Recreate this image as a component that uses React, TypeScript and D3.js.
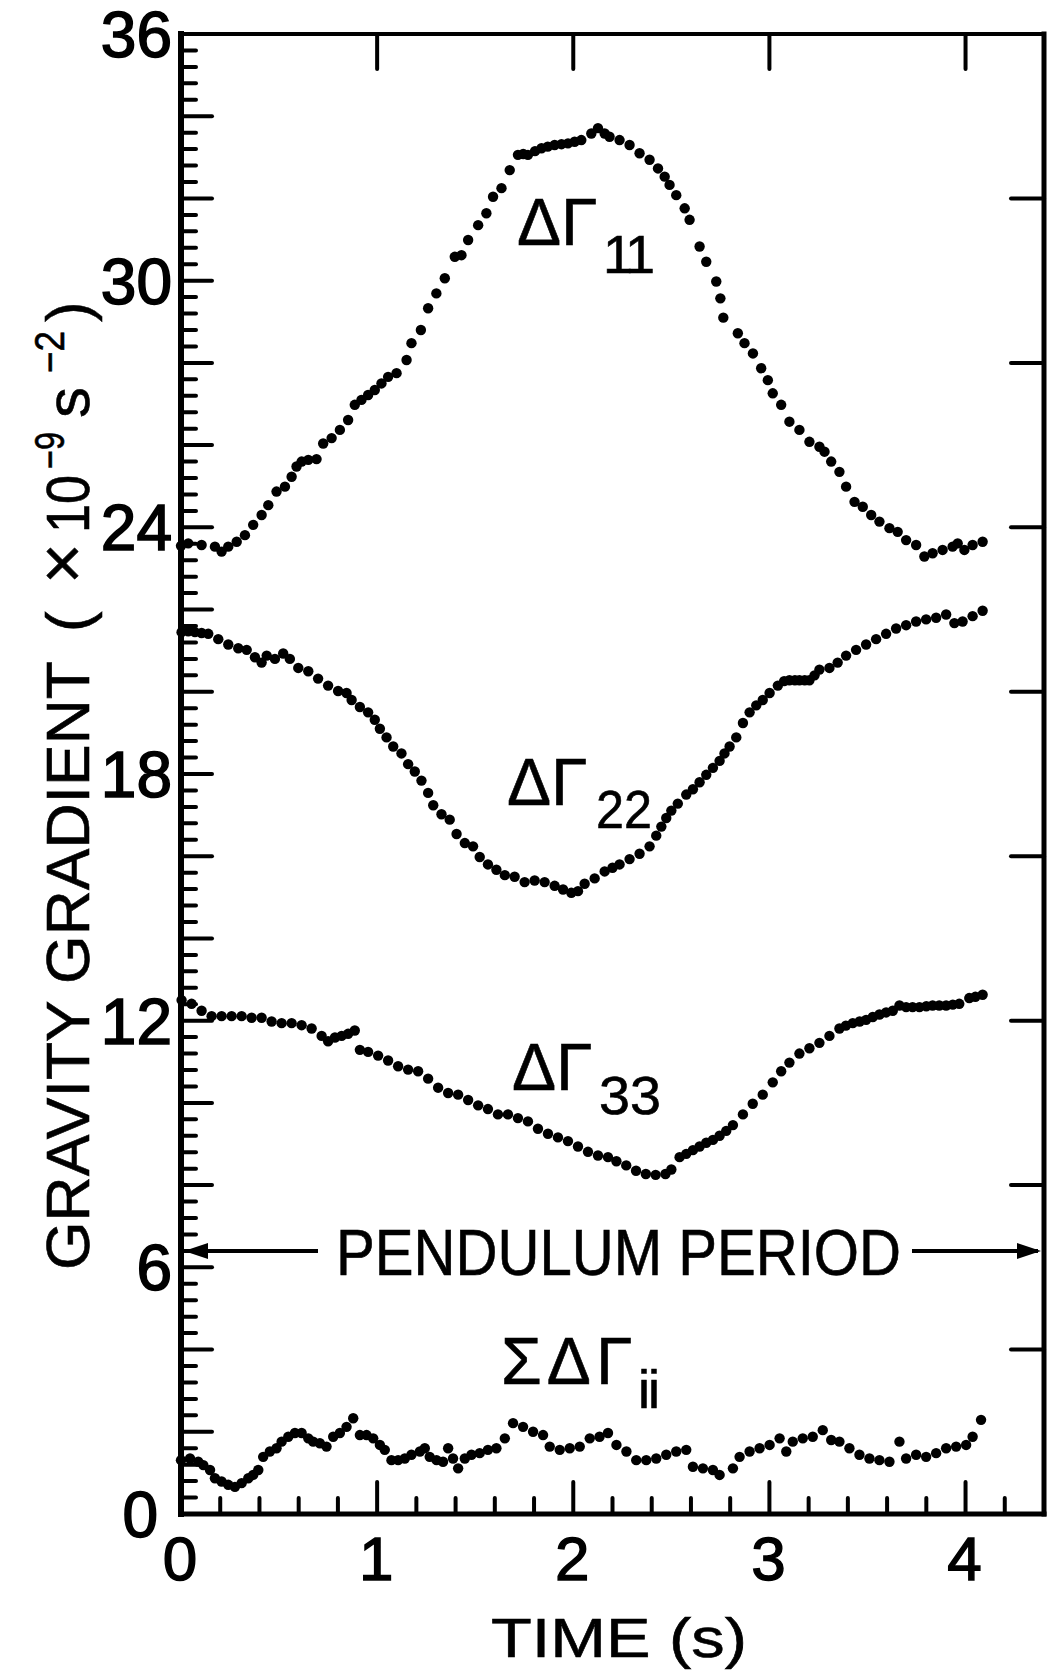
import React from 'react';
import * as d3 from 'd3';

const W = 1054;
const H = 1672;

// ---- data (time in s, gradient in 1e-9 s^-2) ----
const gamma11: [number, number][] = [
  [0.0, 23.55], [0.037, 23.61], [0.105, 23.57], [0.173, 23.53], [0.207, 23.41], [0.241, 23.53], [0.284, 23.65],
  [0.326, 23.81], [0.368, 24.06], [0.411, 24.3], [0.445, 24.54], [0.487, 24.87], [0.53, 24.99], [0.564, 25.23],
  [0.589, 25.48], [0.615, 25.6], [0.649, 25.64], [0.691, 25.66], [0.725, 26.04], [0.768, 26.17], [0.81, 26.37],
  [0.852, 26.61], [0.886, 26.98], [0.92, 27.1], [0.954, 27.22], [0.988, 27.34], [1.022, 27.5], [1.056, 27.66],
  [1.099, 27.75], [1.15, 28.07], [1.175, 28.48], [1.223, 28.8], [1.26, 29.33], [1.302, 29.69], [1.345, 30.06],
  [1.396, 30.58], [1.43, 30.62], [1.464, 30.99], [1.515, 31.35], [1.557, 31.64], [1.591, 32.04], [1.634, 32.25],
  [1.676, 32.69], [1.718, 33.06], [1.745, 33.08], [1.769, 33.06], [1.805, 33.15], [1.838, 33.22], [1.87, 33.26],
  [1.905, 33.3], [1.94, 33.32], [1.973, 33.34], [2.007, 33.38], [2.041, 33.42], [2.092, 33.58], [2.126, 33.71],
  [2.16, 33.58], [2.185, 33.5], [2.236, 33.42], [2.287, 33.3], [2.338, 33.1], [2.389, 32.94], [2.432, 32.73],
  [2.466, 32.53], [2.491, 32.33], [2.525, 32.08], [2.568, 31.76], [2.593, 31.48], [2.644, 30.83], [2.678, 30.46],
  [2.729, 29.98], [2.75, 29.57], [2.765, 29.1], [2.839, 28.72], [2.873, 28.48], [2.916, 28.23], [2.958, 27.87],
  [2.992, 27.58], [3.017, 27.26], [3.06, 26.98], [3.102, 26.57], [3.153, 26.37], [3.204, 26.08], [3.255, 25.96],
  [3.281, 25.84], [3.315, 25.6], [3.357, 25.35], [3.391, 24.99], [3.434, 24.62], [3.476, 24.5], [3.519, 24.3],
  [3.561, 24.14], [3.612, 23.98], [3.654, 23.89], [3.697, 23.69], [3.748, 23.57], [3.79, 23.29], [3.832, 23.37],
  [3.883, 23.45], [3.934, 23.53], [3.96, 23.61], [3.994, 23.45], [4.036, 23.57], [4.087, 23.65],
];

const gamma22: [number, number][] = [
  [0.003, 21.45], [0.037, 21.47], [0.071, 21.45], [0.105, 21.43], [0.139, 21.41], [0.19, 21.28], [0.241, 21.15],
  [0.292, 21.06], [0.335, 21.02], [0.377, 20.84], [0.411, 20.71], [0.437, 20.88], [0.479, 20.8], [0.521, 20.93],
  [0.555, 20.8], [0.598, 20.58], [0.649, 20.5], [0.699, 20.32], [0.75, 20.15], [0.801, 20.02], [0.844, 19.97],
  [0.87, 19.8], [0.912, 19.63], [0.954, 19.5], [0.988, 19.32], [1.014, 19.1], [1.048, 18.89], [1.082, 18.67],
  [1.124, 18.5], [1.158, 18.24], [1.192, 18.06], [1.226, 17.84], [1.26, 17.54], [1.286, 17.24], [1.328, 17.02],
  [1.37, 16.89], [1.405, 16.54], [1.447, 16.32], [1.489, 16.24], [1.523, 15.98], [1.565, 15.8], [1.608, 15.67],
  [1.651, 15.54], [1.701, 15.5], [1.752, 15.37], [1.803, 15.41], [1.854, 15.37], [1.905, 15.28], [1.948, 15.19],
  [1.99, 15.11], [2.024, 15.15], [2.058, 15.33], [2.109, 15.46], [2.16, 15.63], [2.2, 15.72], [2.236, 15.8],
  [2.287, 15.93], [2.338, 16.06], [2.389, 16.24], [2.423, 16.5], [2.449, 16.72], [2.474, 16.93], [2.5, 17.11],
  [2.533, 17.28], [2.576, 17.5], [2.61, 17.63], [2.644, 17.8], [2.678, 17.98], [2.712, 18.15], [2.746, 18.32],
  [2.771, 18.5], [2.797, 18.67], [2.831, 18.89], [2.865, 19.24], [2.899, 19.5], [2.933, 19.67], [2.966, 19.8],
  [3.001, 19.97], [3.043, 20.15], [3.075, 20.26], [3.102, 20.28], [3.13, 20.28], [3.153, 20.28], [3.18, 20.28],
  [3.204, 20.28], [3.23, 20.4], [3.255, 20.54], [3.306, 20.58], [3.348, 20.71], [3.391, 20.88], [3.442, 21.02],
  [3.493, 21.15], [3.544, 21.28], [3.595, 21.41], [3.646, 21.54], [3.697, 21.62], [3.748, 21.71], [3.799, 21.76],
  [3.85, 21.8], [3.901, 21.88], [3.943, 21.67], [3.985, 21.71], [4.036, 21.84], [4.087, 21.97],
];

const gamma33: [number, number][] = [
  [0.003, 12.5], [0.054, 12.41], [0.105, 12.24], [0.156, 12.11], [0.207, 12.11], [0.258, 12.11], [0.309, 12.11],
  [0.36, 12.07], [0.411, 12.07], [0.462, 11.98], [0.513, 11.94], [0.564, 11.94], [0.615, 11.89], [0.666, 11.81],
  [0.717, 11.63], [0.75, 11.5], [0.785, 11.59], [0.819, 11.63], [0.852, 11.68], [0.886, 11.76], [0.912, 11.29],
  [0.954, 11.24], [1.005, 11.15], [1.056, 11.03], [1.107, 10.89], [1.158, 10.81], [1.209, 10.77], [1.26, 10.59],
  [1.311, 10.37], [1.362, 10.24], [1.413, 10.2], [1.464, 10.07], [1.515, 9.94], [1.565, 9.85], [1.616, 9.72],
  [1.667, 9.72], [1.718, 9.63], [1.769, 9.55], [1.82, 9.37], [1.871, 9.25], [1.922, 9.16], [1.973, 9.07],
  [2.024, 8.94], [2.075, 8.81], [2.126, 8.72], [2.177, 8.68], [2.22, 8.58], [2.27, 8.48], [2.32, 8.35],
  [2.37, 8.27], [2.42, 8.25], [2.47, 8.27], [2.5, 8.38], [2.542, 8.68], [2.576, 8.76], [2.61, 8.85], [2.644, 8.94],
  [2.678, 9.03], [2.712, 9.1], [2.746, 9.2], [2.78, 9.32], [2.814, 9.46], [2.865, 9.72], [2.915, 9.98],
  [2.966, 10.2], [3.017, 10.5], [3.06, 10.77], [3.102, 10.98], [3.153, 11.2], [3.204, 11.33], [3.255, 11.46],
  [3.306, 11.63], [3.357, 11.81], [3.39, 11.88], [3.425, 11.94], [3.46, 11.98], [3.493, 12.02], [3.527, 12.09],
  [3.561, 12.15], [3.595, 12.2], [3.629, 12.24], [3.663, 12.37], [3.697, 12.33], [3.73, 12.33], [3.765, 12.33],
  [3.8, 12.35], [3.832, 12.37], [3.866, 12.37], [3.901, 12.37], [3.935, 12.39], [3.968, 12.41], [4.019, 12.55],
  [4.05, 12.58], [4.087, 12.63],
];

const gammaSum: [number, number][] = [
  [0.0, 1.31], [0.046, 1.35], [0.088, 1.27], [0.114, 1.19], [0.148, 1.07], [0.173, 0.87], [0.207, 0.79],
  [0.241, 0.71], [0.275, 0.66], [0.309, 0.75], [0.343, 0.87], [0.368, 0.95], [0.394, 1.07], [0.419, 1.39],
  [0.453, 1.52], [0.487, 1.6], [0.513, 1.76], [0.547, 1.88], [0.581, 1.97], [0.615, 1.97], [0.649, 1.84],
  [0.674, 1.76], [0.708, 1.72], [0.742, 1.64], [0.776, 1.88], [0.81, 1.97], [0.844, 2.12], [0.878, 2.33],
  [0.912, 1.92], [0.946, 1.92], [0.98, 1.84], [1.014, 1.68], [1.039, 1.56], [1.073, 1.31], [1.107, 1.31],
  [1.141, 1.35], [1.175, 1.44], [1.218, 1.52], [1.243, 1.6], [1.268, 1.39], [1.303, 1.31], [1.336, 1.27],
  [1.362, 1.6], [1.387, 1.35], [1.413, 1.11], [1.447, 1.35], [1.481, 1.44], [1.523, 1.48], [1.565, 1.56],
  [1.608, 1.6], [1.651, 1.84], [1.693, 2.21], [1.744, 2.12], [1.795, 2.0], [1.846, 1.92], [1.88, 1.64],
  [1.931, 1.56], [1.982, 1.6], [2.033, 1.64], [2.084, 1.84], [2.134, 1.88], [2.177, 1.97], [2.22, 1.68],
  [2.271, 1.52], [2.321, 1.31], [2.372, 1.31], [2.423, 1.35], [2.474, 1.44], [2.525, 1.52], [2.576, 1.56],
  [2.61, 1.15], [2.661, 1.11], [2.712, 1.07], [2.746, 0.95], [2.814, 1.11], [2.848, 1.39], [2.899, 1.52],
  [2.95, 1.6], [3.001, 1.68], [3.052, 1.84], [3.086, 1.52], [3.119, 1.76], [3.17, 1.84], [3.221, 1.88],
  [3.272, 2.04], [3.315, 1.8], [3.357, 1.76], [3.408, 1.6], [3.459, 1.44], [3.51, 1.35], [3.561, 1.31],
  [3.612, 1.27], [3.663, 1.76], [3.697, 1.35], [3.748, 1.44], [3.799, 1.39], [3.85, 1.48], [3.901, 1.6],
  [3.952, 1.64], [4.003, 1.68], [4.036, 1.88], [4.079, 2.29],
];

const allSeries = [gamma11, gamma22, gamma33, gammaSum];

const yLabelValues = [0, 6, 12, 18, 24, 30, 36];
const xLabelValues = [0, 1, 2, 3, 4];
const rightTickValues = [4, 8, 12, 16, 20, 24, 28, 32];
const topTickValues = [1, 2, 3, 4];

const FONT = "'Liberation Sans', Arial, sans-serif";

export default function App() {
  const x = d3.scaleLinear().domain([0, 4.4]).range([181, 1044]);
  const y = d3.scaleLinear().domain([0, 36]).range([1514, 34]);

  const leftTicks = d3.range(0, 91).map((i) => i * 0.4).filter((v) => v > 0.01 && v < 35.99);
  const bottomTicks = d3.range(1, 22).map((i) => i * 0.2);

  const x0 = x(0), x1 = x(4.4), y0 = y(0), y1 = y(36);
  const arrowY = y(6.4);

  const tickStyle = { stroke: '#000', strokeWidth: 4, strokeLinecap: 'round' as const };

  return (
    <svg width={W} height={H} style={{ position: 'absolute', left: 0, top: 0, background: '#fff' }} fontFamily={FONT}>
      <rect x={0} y={0} width={W} height={H} fill="#fff" />
      {/* frame */}
      <line x1={x0} y1={y1} x2={x0} y2={y0} stroke="#000" strokeWidth={6} strokeLinecap="square" />
      <line x1={x0} y1={y0} x2={x1} y2={y0} stroke="#000" strokeWidth={5} strokeLinecap="square" />
      <line x1={x0} y1={y1} x2={x1} y2={y1} stroke="#000" strokeWidth={4} strokeLinecap="square" />
      <line x1={x1} y1={y1} x2={x1} y2={y0} stroke="#000" strokeWidth={5} strokeLinecap="square" />

      {/* left ticks */}
      {leftTicks.map((v, i) => {
        const major = Math.abs(v / 2 - Math.round(v / 2)) < 0.01;
        return <line key={'l' + i} x1={x0} x2={x0 + (major ? 31 : 15)} y1={y(v)} y2={y(v)} {...tickStyle} />;
      })}
      {/* bottom ticks */}
      {bottomTicks.map((t, i) => {
        const major = Math.abs(t - Math.round(t)) < 0.01;
        return <line key={'b' + i} x1={x(t)} x2={x(t)} y1={y0} y2={y0 - (major ? 32 : 16)} {...tickStyle} />;
      })}
      {/* top ticks */}
      {topTickValues.map((t) => (
        <line key={'t' + t} x1={x(t)} x2={x(t)} y1={y1} y2={y1 + 35} {...tickStyle} />
      ))}
      {/* right ticks */}
      {rightTickValues.map((v) => (
        <line key={'r' + v} x1={x1} x2={x1 - 33} y1={y(v)} y2={y(v)} {...tickStyle} />
      ))}

      {/* y tick labels */}
      {yLabelValues.map((v) => (
        <text key={'yl' + v} x={v === 0 ? 158 : 172} y={y(v) + 23} fontSize={64} textAnchor="end"
          fill="#000" stroke="#000" strokeWidth={1.6}>{v}</text>
      ))}
      {/* x tick labels */}
      {xLabelValues.map((t) => (
        <text key={'xl' + t} x={x(t) - 1} y={1580} fontSize={62} textAnchor="middle"
          fill="#000" stroke="#000" strokeWidth={1.4}>{t}</text>
      ))}

      {/* axis titles */}
      <text x={491} y={1657} fontSize={56} textLength={256} lengthAdjust="spacingAndGlyphs" fill="#000"
        stroke="#000" strokeWidth={0.6}>TIME (s)</text>
      <text transform="rotate(-90)" fontSize={62} fill="#000" stroke="#000" strokeWidth={0.6}>
        <tspan x={-1270} y={89} textLength={609} lengthAdjust="spacingAndGlyphs">GRAVITY GRADIENT</tspan>
        <tspan x={-632} y={89}>(</tspan>
        <tspan x={-584} y={86} fontSize={70}>×</tspan>
        <tspan x={-533} y={89} textLength={58} lengthAdjust="spacingAndGlyphs">10</tspan>
        <tspan x={-469} y={64} fontSize={42} textLength={37} lengthAdjust="spacingAndGlyphs">−9</tspan>
        <tspan x={-418} y={89}>s</tspan>
        <tspan x={-373} y={64} fontSize={42} textLength={42} lengthAdjust="spacingAndGlyphs">−2</tspan>
        <tspan x={-322} y={89}>)</tspan>
      </text>

      {/* series labels */}
      <g fill="#000" stroke="#000" strokeWidth={0.6}>
        <text x={517} y={245} fontSize={66}>ΔΓ</text>
        <text x={603} y={273} fontSize={54} letterSpacing={-4}>11</text>
        <text x={507} y={805} fontSize={66}>ΔΓ</text>
        <text x={596} y={828} fontSize={54} textLength={56} lengthAdjust="spacingAndGlyphs">22</text>
        <text x={512} y={1090} fontSize={66}>ΔΓ</text>
        <text x={599} y={1114} fontSize={54} textLength={62} lengthAdjust="spacingAndGlyphs">33</text>
        <text x={501} y={1384} fontSize={66} letterSpacing={5}>ΣΔΓ</text>
        <text x={638} y={1408} fontSize={54} letterSpacing={-2}>ii</text>
      </g>

      {/* pendulum period annotation */}
      <text x={336} y={1275} fontSize={64} fill="#000" stroke="#000" strokeWidth={0.6}
        textLength={565} lengthAdjust="spacingAndGlyphs">PENDULUM  PERIOD</text>
      <line x1={x0 + 6} x2={318} y1={arrowY} y2={arrowY} stroke="#000" strokeWidth={4} />
      <polygon points={`${x0 + 3},${arrowY} ${x0 + 27},${arrowY - 8} ${x0 + 27},${arrowY + 8}`} fill="#000" />
      <line x1={912} x2={x1 - 6} y1={arrowY} y2={arrowY} stroke="#000" strokeWidth={4} />
      <polygon points={`${x1 - 3},${arrowY} ${x1 - 27},${arrowY - 8} ${x1 - 27},${arrowY + 8}`} fill="#000" />

      {/* data points */}
      {allSeries.map((s, si) => (
        <g key={'s' + si} fill="#000">
          {s.map(([t, v], i) => (
            <circle key={i} cx={x(t)} cy={y(v)} r={5.2} />
          ))}
        </g>
      ))}
    </svg>
  );
}
